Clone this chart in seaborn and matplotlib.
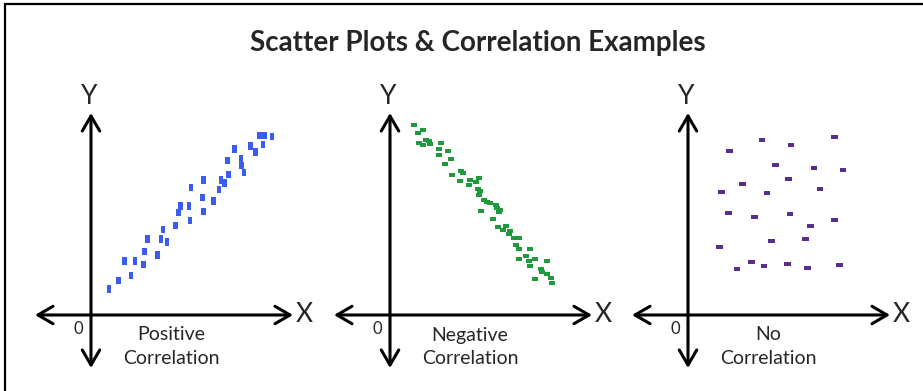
import numpy as np
import pandas as pd
import matplotlib
matplotlib.use('Agg')
import matplotlib.pyplot as plt
import seaborn as sns
from matplotlib.lines import Line2D

# values, units = distance from the origin
pos_x = [0.9, 1.38, 2.0, 1.67, 2.2, 2.63, 2.68, 3.32, 2.83, 3.5, 3.8, 3.6, 4.23, 4.95,
         4.37, 4.47, 4.9, 5.62, 5.57, 5.0, 5.62, 6.13, 6.4, 6.5, 6.68, 6.88, 6.83, 7.5,
         7.52, 7.65, 7.17, 7.98, 8.23, 8.42, 8.67, 8.6, 9.05]
pos_y = [1.3, 1.73, 1.98, 2.7, 2.7, 2.52, 3.18, 3.0, 3.8, 3.8, 3.66, 4.28, 4.48, 4.73,
         5.12, 5.45, 5.45, 5.17, 5.88, 6.37, 6.75, 5.7, 6.27, 6.75, 6.6, 7.03, 7.72, 7.82,
         7.48, 7.13, 8.3, 8.45, 8.15, 8.97, 8.97, 8.53, 8.92]

neg_x = [1.22, 1.42, 1.65, 1.47, 1.67, 1.8, 1.97, 2.0, 2.57, 2.43, 2.92, 2.43, 3.05, 2.75,
         3.57, 3.63, 3.08, 3.48, 4.02, 3.97, 4.32, 4.47, 4.38, 4.5, 4.43, 4.72, 4.87, 4.98,
         5.3, 5.33, 5.52, 5.45, 4.55, 5.17, 5.42, 5.8, 5.67, 6.0, 5.95, 6.18, 6.45, 6.32,
         6.43, 6.98, 6.82, 6.43, 7.25, 6.97, 7.02, 7.87, 7.53, 7.6, 7.83, 8.07, 7.25, 8.1]
neg_y = [9.48, 9.08, 9.23, 8.62, 8.52, 8.75, 8.68, 8.55, 8.62, 8.32, 8.22, 7.98, 7.78, 7.53,
         7.22, 7.08, 7.02, 6.68, 6.73, 6.5, 6.63, 6.87, 6.3, 6.18, 6.0, 5.75, 5.65, 5.58,
         5.48, 5.35, 5.25, 5.13, 5.18, 4.8, 4.4, 4.45, 4.27, 4.22, 4.07, 3.85, 3.85, 3.5,
         3.32, 3.32, 2.93, 2.78, 2.78, 2.68, 2.43, 2.68, 2.28, 2.13, 2.05, 1.85, 1.82, 1.62]

none_x = [3.7, 5.15, 7.33, 2.07, 4.38, 6.3, 7.75, 5.02, 2.73, 1.68, 3.95, 6.6, 2.02, 3.32,
          5.1, 7.33, 6.12, 4.18, 5.87, 1.58, 3.18, 2.45, 3.8, 4.97, 5.98, 7.57]
none_y = [8.77, 8.52, 8.92, 8.18, 7.52, 7.35, 7.27, 6.78, 6.55, 6.15, 6.1, 6.3, 5.08, 4.9,
          5.03, 4.75, 4.45, 3.68, 3.8, 3.4, 2.63, 2.3, 2.45, 2.53, 2.35, 2.48]

labels = ['Positive\nCorrelation', 'Negative\nCorrelation', 'No\nCorrelation']
colors = ['#3b5cf2', '#1e9a3c', '#5a2d8a']
title = 'Scatter Plots & Correlation Examples'

W, H = 923, 391
origins = [91, 390, 688]  # pixel column of each Y axis
markers = [
    [(-2, -3.3), (2, -3.3), (2, 3.3), (-2, 3.3)],
    [(-2.5, -1.7), (2.5, -1.7), (2.5, 1.7), (-2.5, 1.7)],
    [(-3, -1.7), (3, -1.7), (3, 1.7), (-3, 1.7)],
]
sizes = [30, 18, 24]

sns.set_style('white')
plt.rcParams['font.family'] = ['Lato', 'DejaVu Sans']


def draw_panel(fig, ox, df, color, marker, size, label):
    ax = fig.add_axes([(ox - 60) / W, 16 / H, 290 / W, 300 / H])
    ax.set_xlim(-3, 11.5)
    ax.set_ylim(-3, 12)
    ax.axis('off')

    arrow = dict(arrowstyle='<->,head_length=0.6,head_width=0.35', lw=2.2,
                 color='black', mutation_scale=18, shrinkA=0, shrinkB=0)
    ax.annotate('', xy=(10.1, 0), xytext=(-2.8, 0), arrowprops=arrow)
    ax.annotate('', xy=(0, 10.1), xytext=(0, -2.65), arrowprops=arrow)

    sns.scatterplot(data=df, x='x', y='y', ax=ax, color=color, marker=marker,
                    s=size, edgecolor='none', linewidth=0, legend=False)

    ax.text(10.65, 0, 'X', fontsize=19, ha='center', va='center')
    ax.text(-0.1, 10.9, 'Y', fontsize=19, ha='center', va='center')
    ax.text(-0.65, -0.7, '0', fontsize=12, ha='center', va='center')
    top, bottom = label.split('\n')
    ax.text(4.0, -1.0, top, fontsize=14, ha='center', va='center')
    ax.text(4.0, -2.15, bottom, fontsize=14, ha='center', va='center')
    return ax


fig = plt.figure(figsize=(W / 100, H / 100), dpi=100)

panels = [(pos_x, pos_y), (neg_x, neg_y), (none_x, none_y)]
for i, (xs, ys) in enumerate(panels):
    df = pd.DataFrame({'x': xs, 'y': ys})
    draw_panel(fig, origins[i], df, colors[i], markers[i], sizes[i], labels[i])

fig.text(478 / W, 1 - 43 / H, title, fontsize=20, fontweight='bold',
         ha='center', va='center')

# frame lines of the original screenshot (top and left only)
fig.add_artist(Line2D([5 / W, 1], [1 - 3.5 / H, 1 - 3.5 / H], color='black', lw=1.6))
fig.add_artist(Line2D([5 / W, 5 / W], [0, 1 - 3.5 / H], color='black', lw=1.6))

fig.savefig('out.png', dpi=100)
